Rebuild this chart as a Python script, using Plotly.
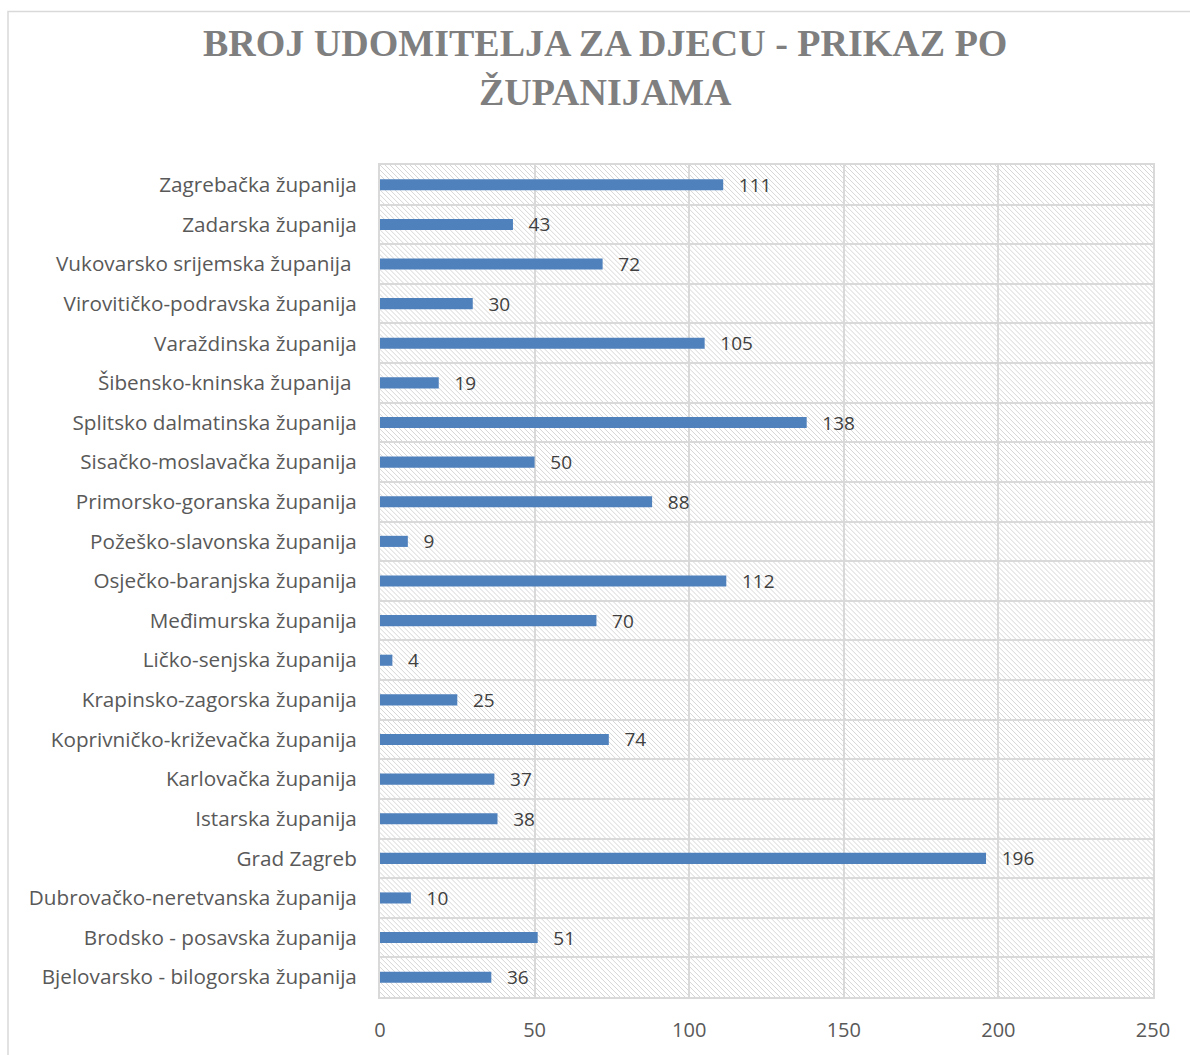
import base64
import plotly.graph_objects as go

counties = [
    "Bjelovarsko - bilogorska županija",
    "Brodsko - posavska županija",
    "Dubrovačko-neretvanska županija",
    "Grad Zagreb",
    "Istarska županija",
    "Karlovačka županija",
    "Koprivničko-križevačka županija",
    "Krapinsko-zagorska županija",
    "Ličko-senjska županija",
    "Međimurska županija",
    "Osječko-baranjska županija",
    "Požeško-slavonska županija",
    "Primorsko-goranska županija",
    "Sisačko-moslavačka županija",
    "Splitsko dalmatinska županija",
    "Šibensko-kninska županija\u00a0",
    "Varaždinska županija",
    "Virovitičko-podravska županija",
    "Vukovarsko srijemska županija\u00a0",
    "Zadarska županija",
    "Zagrebačka županija",
]
values = [36, 51, 10, 196, 38, 37, 74, 25, 4, 70, 112, 9, 88, 50, 138, 19, 105, 30, 72, 43, 111]
x_ticks = [0, 50, 100, 150, 200, 250]
title_text = "BROJ UDOMITELJA ZA DJECU - PRIKAZ PO<br>ŽUPANIJAMA"

W, H = 1190, 1055
L, R, T, B = 380, 37, 165, 55
PW, PH = W - L - R, H - T - B

svg = f'''<svg xmlns="http://www.w3.org/2000/svg" width="{PW}" height="{PH}">
<defs><pattern id="p" width="5" height="5" patternUnits="userSpaceOnUse">
<path d="M-1,-1 L6,6 M-1,4 L1,6 M4,-1 L6,1" stroke="#d6d6d6" stroke-width="1"/>
</pattern></defs>
<rect width="{PW}" height="{PH}" fill="white"/>
<rect width="{PW}" height="{PH}" fill="url(#p)"/>
</svg>'''
src = "data:image/svg+xml;base64," + base64.b64encode(svg.encode()).decode()

FONT = "Open Sans, Noto Sans, sans-serif"

fig = go.Figure(go.Bar(
    x=values, y=counties, orientation="h",
    marker=dict(color="#4f81bd", line=dict(width=0)),
    text=["\u2002\u2009" + str(v) for v in values],
    textposition="outside", cliponaxis=False, constraintext="none",
    textfont=dict(family=FONT, size=19, color="#404040"),
    hoverinfo="skip",
))

fig.update_layout(
    width=W, height=H,
    margin=dict(l=L, r=R, t=T, b=B),
    paper_bgcolor="white", plot_bgcolor="rgba(0,0,0,0)",
    bargap=0.72, showlegend=False,
    annotations=[dict(
        text=title_text, showarrow=False,
        xref="paper", yref="paper",
        x=(605 - L) / PW, xanchor="center",
        y=(PH + T - 19) / PH, yanchor="top",
        align="center",
        font=dict(family="Liberation Serif, serif", size=38, color="#7f7f7f", weight="bold"),
    )],
    images=[dict(source=src, xref="paper", yref="paper", x=0, y=1, sizex=1, sizey=1,
                 sizing="stretch", layer="below", xanchor="left", yanchor="top")],
    shapes=[dict(type="rect", xref="paper", yref="paper",
                 x0=(8 - L) / PW, x1=(W + 5 - L) / PW,
                 y0=(PH - (H + 5 - T)) / PH, y1=(PH - (11 - T)) / PH,
                 line=dict(color="#d9d9d9", width=1.5), fillcolor="rgba(0,0,0,0)", layer="below")],
)
fig.update_xaxes(
    range=[0, 250], tickvals=x_ticks, showgrid=True, gridcolor="#d9d9d9", gridwidth=2,
    zeroline=False, showline=True, mirror=True, linecolor="#d9d9d9", linewidth=2,
    ticks="", tickfont=dict(family=FONT, size=20, color="#595959"),
    ticklabelstandoff=14, fixedrange=True,
)
fig.update_yaxes(
    type="category", tickson="boundaries", showgrid=True, gridcolor="#d9d9d9", gridwidth=2,
    showline=True, mirror=True, linecolor="#d9d9d9", linewidth=2, ticks="",
    tickfont=dict(family=FONT, size=20.7, color="#595959"),
    ticklabelstandoff=17, fixedrange=True,
)

fig.write_html("out.html")
